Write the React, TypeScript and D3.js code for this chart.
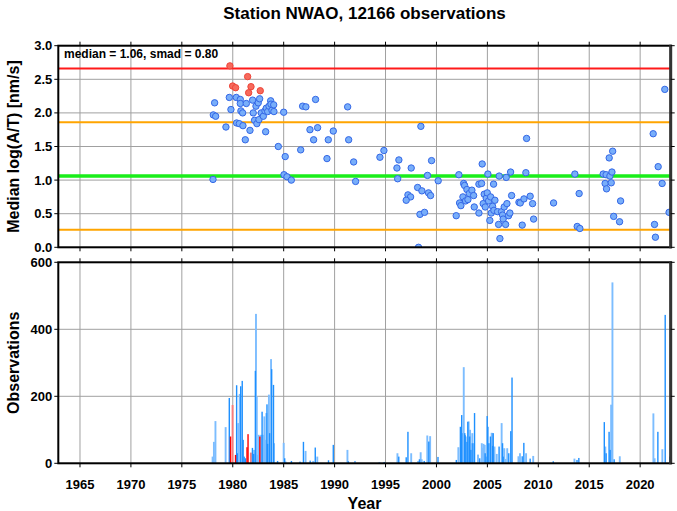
import React from "react";
import * as d3 from "d3";

// ---------- data ----------
const medianVal = 1.06;
const smadVal = 0.8;
const titleText = "Station NWAO, 12166 observations";

const ptYears = [
  1978.22, 1978.09, 1978.32, 1978.06, 1979.33, 1979.66, 1979.82, 1980.35, 1980.74, 1980.74,
  1980.8, 1980.97, 1980.38, 1980.64, 1981.0, 1981.23, 1981.69, 1981.33, 1981.95, 1982.01,
  1982.28, 1982.5, 1982.64, 1982.14, 1982.37, 1982.57, 1982.8, 1983.0, 1983.16, 1983.29,
  1983.43, 1983.56, 1983.72, 1983.75, 1983.85, 1984.02, 1984.04, 1983.23, 1984.47, 1985.0,
  1985.15, 1985.03, 1985.32, 1985.75, 1986.67, 1986.86, 1987.18, 1987.58, 1988.13, 1987.94,
  1988.33, 1989.25, 1989.38, 1989.87, 1991.28, 1991.38, 1991.87, 1992.06, 1994.45, 1994.84,
  1996.12, 1996.31, 1996.19, 1997.52, 1998.15, 1998.47, 1998.57, 1997.2, 1997.46, 1997.03,
  1998.38, 1998.83, 1998.24, 1999.12, 1999.22, 1999.42, 1999.52, 2000.17, 2001.94, 2002.2,
  2002.27, 2002.4, 2002.6, 2002.67, 2002.76, 2002.86, 2002.99, 2003.09, 2003.22, 2003.48,
  2003.65, 2003.71, 2004.17, 2004.17, 2004.43, 2004.49, 2004.59, 2004.69, 2004.79, 2004.89,
  2004.99, 2005.05, 2005.12, 2005.24, 2005.32, 2005.38, 2005.51, 2005.61, 2005.64, 2005.74,
  2006.0, 2006.1, 2006.16, 2006.23, 2006.39, 2006.49, 2006.55, 2006.65, 2006.79, 2006.85,
  2006.92, 2007.08, 2007.21, 2007.28, 2007.38, 2008.1, 2008.23, 2008.42, 2008.59, 2008.78,
  2008.85, 2009.2, 2009.44, 2009.54, 2011.5, 2013.59, 2014.01, 2013.82, 2014.08, 2016.37,
  2016.56, 2016.66, 2016.7, 2016.96, 2017.03, 2017.16, 2017.23, 2017.3, 2017.4, 2017.98,
  2018.08, 2021.28, 2021.77, 2022.16, 2021.41, 2021.5, 2022.42, 2022.84,
];
const ptValues = [
  2.15, 1.97, 1.95, 1.01, 1.79, 2.23, 2.05, 2.23, 2.2, 2.14,
  2.03, 2.0, 1.85, 1.84, 1.81, 1.6, 1.74, 2.14, 2.19, 2.0,
  2.1, 2.15, 2.21, 1.89, 1.84, 1.9, 2.0, 1.95, 2.03, 2.07,
  2.02, 2.1, 2.18, 2.13, 2.04, 2.12, 2.02, 1.72, 1.5, 2.01,
  1.35, 1.08, 1.05, 1.0, 1.45, 2.1, 2.09, 1.75, 2.2, 1.6,
  1.78, 1.32, 1.6, 1.73, 2.09, 1.6, 1.27, 0.98, 1.34, 1.44,
  1.18, 1.3, 1.02, 1.18, 0.89, 1.8, 0.84, 0.78, 0.75, 0.7,
  0.49, 0.52, 0.0, 1.07, 0.81, 0.77, 1.29, 0.99, 0.47, 1.08,
  0.66, 0.62, 0.75, 0.95, 0.92, 0.69, 0.86, 0.71, 0.8, 0.85,
  0.77, 0.6, 0.94, 0.51, 0.95, 1.24, 0.65, 0.79, 0.6, 0.73,
  0.81, 1.09, 0.69, 0.4, 0.75, 0.51, 0.61, 0.94, 0.55, 0.7,
  0.53, 0.34, 1.06, 0.13, 0.53, 0.48, 0.42, 0.6, 0.34, 1.04,
  0.65, 0.47, 0.51, 1.12, 0.77, 0.67, 0.66, 0.33, 0.72, 1.11,
  1.62, 0.76, 0.65, 0.42, 0.66, 1.09, 0.8, 0.31, 0.28, 1.09,
  0.95, 1.08, 0.87, 1.33, 1.06, 0.96, 1.12, 1.43, 0.46, 0.38,
  0.69, 1.69, 1.2, 0.95, 0.34, 0.15, 2.35, 0.52,
];
const outYears = [1979.72, 1981.46, 1979.99, 1980.28, 1981.79, 1981.56, 1982.7];
const outValues = [2.7, 2.54, 2.4, 2.375, 2.39, 2.3, 2.33];

// histogram bars: year, count, kind (b = blue, l = light blue, r = red, p = light red)
const barYears = [
  1978.02, 1978.15, 1978.3, 1979.3, 1979.66, 1979.72, 1979.78, 1979.98, 1980.27, 1980.38,
  1980.45, 1980.68, 1980.78, 1980.93, 1981.02, 1981.25, 1981.4, 1981.5, 1981.78, 1981.93,
  1982.1, 1982.22, 1982.28, 1982.36, 1982.45, 1982.55, 1982.66, 1982.78, 1982.88, 1982.98,
  1983.1, 1983.2, 1983.36, 1983.42, 1983.55, 1983.62, 1983.76, 1983.82, 1984.0, 1984.05,
  1984.4, 1985.0, 1985.1, 1985.2, 1985.76, 1986.6, 1986.94, 1987.15, 1987.6, 1987.9,
  1988.1, 1988.3, 1989.4, 1989.87, 1991.26, 1991.35, 1992.0, 1994.4, 1994.87, 1996.17,
  1996.3, 1997.03, 1997.2, 1997.52, 1998.2, 1998.33, 1998.45, 1998.55, 1998.8, 1999.1,
  1999.25, 1999.38, 2000.15, 2001.95, 2002.15, 2002.35, 2002.48, 2002.58, 2002.68, 2002.78,
  2002.88, 2003.0, 2003.08, 2003.16, 2003.26, 2003.45, 2003.58, 2003.74, 2004.08, 2004.25,
  2004.45, 2004.58, 2004.78, 2004.88, 2004.98, 2005.05, 2005.15, 2005.3, 2005.42, 2005.52,
  2005.7, 2005.92, 2006.15, 2006.4, 2006.55, 2006.78, 2006.95, 2007.1, 2007.3, 2007.42,
  2008.05, 2008.2, 2008.42, 2008.58, 2008.8, 2009.2, 2009.5, 2011.47, 2013.55, 2013.8,
  2013.98, 2016.48, 2016.58, 2016.66, 2016.95, 2017.05, 2017.15, 2017.28, 2017.45, 2018.0,
  2021.3, 2021.42, 2021.74, 2022.18, 2022.46, 2022.92,
  2002.81, 2003.3, 2003.38, 2003.52, 2004.62, 2004.74, 2005.48, 2005.57, 2006.49, 2006.66,
  1980.55, 1981.12, 1982.05, 1983.0, 1983.3,
];
const barCounts = [
  20, 64, 126, 108, 195, 15, 80, 174, 25, 233,
  30, 207, 230, 246, 70, 15, 48, 87, 32, 46,
  40, 276, 446, 199, 25, 85, 80, 85, 154, 85,
  140, 70, 176, 58, 205, 90, 311, 281, 234, 60,
  7, 61, 15, 5, 7, 5, 64, 37, 8, 7,
  47, 20, 9, 55, 40, 6, 7, 4, 4, 30,
  20, 18, 94, 30, 7, 12, 33, 12, 7, 83,
  65, 81, 19, 10, 48, 109, 144, 90, 287, 90,
  80, 64, 124, 125, 80, 60, 60, 150, 26, 15,
  60, 46, 30, 20, 141, 109, 60, 80, 91, 52,
  50, 28, 50, 120, 20, 13, 45, 30, 96, 256,
  21, 30, 21, 61, 30, 14, 22, 6, 14, 10,
  16, 123, 50, 30, 94, 40, 175, 540, 12, 21,
  149, 15, 94, 42, 443, 20,
  84, 100, 40, 90, 58, 55, 90, 90, 60, 45,
  120, 20, 28, 45, 150,
];
const barKinds = [
  "l", "l", "l", "l", "b", "l", "r", "p", "r", "b",
  "b", "l", "b", "b", "b", "b", "r", "r", "p", "b",
  "l", "b", "l", "l", "l", "l", "r", "l", "b", "l",
  "l", "l", "b", "b", "l", "b", "l", "b", "b", "l",
  "b", "l", "b", "l", "b", "b", "b", "l", "b", "l",
  "b", "l", "b", "b", "l", "b", "l", "l", "b", "l",
  "b", "b", "b", "l", "l", "b", "l", "l", "b", "l",
  "b", "l", "b", "b", "l", "b", "b", "l", "l", "b",
  "l", "b", "b", "l", "b", "l", "b", "b", "l", "b",
  "l", "l", "b", "l", "b", "b", "b", "b", "l", "b",
  "l", "l", "b", "l", "b", "l", "l", "b", "b", "b",
  "l", "l", "b", "b", "l", "b", "l", "b", "l", "b",
  "b", "b", "l", "b", "b", "b", "l", "l", "b", "l",
  "l", "l", "b", "l", "b", "b",
  "b", "l", "b", "l", "l", "l", "l", "b", "b", "l",
  "l", "b", "b", "l", "l",
];

const xTicks = [1965, 1970, 1975, 1980, 1985, 1990, 1995, 2000, 2005, 2010, 2015, 2020];
const yTopTicks = [0, 0.5, 1, 1.5, 2, 2.5, 3];
const yBotTicks = [0, 200, 400, 600];

// ---------- layout ----------
const W = 677;
const H = 511;
const L = 58.3;
const R = 670.7;
const T1 = 45.7;
const B1 = 247.3;
const T2 = 262.3;
const B2 = 463.3;
const FONT = "'Liberation Sans', Arial, Helvetica, sans-serif";

const barColor: Record<string, string> = {
  b: "#1e90ff",
  l: "#7cbdff",
  r: "#ff0000",
  p: "#f77c7c",
};

export default function App() {
  const x = d3.scaleLinear().domain([1962.87, 2023.0]).range([L, R]);
  const y1 = d3.scaleLinear().domain([0, 3]).range([B1, T1]);
  const y2 = d3.scaleLinear().domain([0, 600]).range([B2, T2]);

  const hLines = [
    { v: medianVal + 2 * smadVal, c: "#ff1a1a", w: 2 },
    { v: medianVal + smadVal, c: "#ffa500", w: 2 },
    { v: medianVal, c: "#1aee1a", w: 3.5 },
    { v: medianVal - smadVal, c: "#ffa500", w: 2 },
  ];

  const bars = barYears.map((yr, i) => ({ yr, n: barCounts[i], k: barKinds[i] }));
  const order = ["l", "p", "b", "r"];
  bars.sort((a, b) => order.indexOf(a.k) - order.indexOf(b.k));

  const tick = 4;
  const frame = (top: number, bot: number) => (
    <g>
      <rect x={L} y={top} width={R - L} height={bot - top} fill="none" stroke="#000" strokeWidth={2} />
      <line x1={R} x2={R} y1={top - 1} y2={bot + 1} stroke="#333" strokeWidth={3} />
    </g>
  );

  return (
    <svg width={W} height={H} style={{ position: "absolute", left: 0, top: 0 }} fontFamily={FONT}>
      <rect x={0} y={0} width={W} height={H} fill="#fff" />
      <defs>
        <clipPath id="clipTop">
          <rect x={L} y={T1} width={R - L} height={B1 - T1} />
        </clipPath>
        <clipPath id="clipBot">
          <rect x={L} y={T2} width={R - L} height={B2 - T2} />
        </clipPath>
      </defs>

      <text x={(L + R) / 2} y={18.5} textAnchor="middle" fontSize={17} fontWeight="bold">
        {titleText}
      </text>

      {/* ---------- top panel ---------- */}
      <g>
        {xTicks.map((t) => (
          <line key={"gx1" + t} x1={x(t)} x2={x(t)} y1={T1} y2={B1} stroke="#a0a0a0" strokeWidth={1} />
        ))}
        {yTopTicks.map((t) => (
          <line key={"gy1" + t} x1={L} x2={R} y1={y1(t)} y2={y1(t)} stroke="#a0a0a0" strokeWidth={1} />
        ))}
        {hLines.map((h, i) => (
          <line key={"h" + i} x1={L} x2={R} y1={y1(h.v)} y2={y1(h.v)} stroke={h.c} strokeWidth={h.w} />
        ))}
        <g clipPath="url(#clipTop)">
          {ptYears.map((yr, i) => (
            <circle key={"p" + i} cx={x(yr)} cy={y1(ptValues[i])} r={3.2} fill="#78aefa" stroke="#3467e6" strokeWidth={1} />
          ))}
          {outYears.map((yr, i) => (
            <circle key={"o" + i} cx={x(yr)} cy={y1(outValues[i])} r={3.2} fill="#f76a5c" stroke="#ee4438" strokeWidth={1} />
          ))}
        </g>
        {frame(T1, B1)}
        {xTicks.map((t) => (
          <g key={"tx1" + t}>
            <line x1={x(t)} x2={x(t)} y1={T1 - tick} y2={T1} stroke="#000" strokeWidth={1} />
            <line x1={x(t)} x2={x(t)} y1={B1} y2={B1 + tick} stroke="#000" strokeWidth={1} />
          </g>
        ))}
        {yTopTicks.map((t) => (
          <g key={"ty1" + t}>
            <line x1={L - tick} x2={L} y1={y1(t)} y2={y1(t)} stroke="#000" strokeWidth={1} />
            <line x1={R} x2={R + tick} y1={y1(t)} y2={y1(t)} stroke="#000" strokeWidth={1} />
            <text x={L - 6} y={y1(t) + 4.5} textAnchor="end" fontSize={13} fontWeight="bold">
              {d3.format(".1f")(t)}
            </text>
          </g>
        ))}
        <text x={64} y={58} fontSize={12} fontWeight="bold">
          {`median = ${medianVal.toFixed(2)}, smad = ${smadVal.toFixed(2)}`}
        </text>
        <text
          transform={`translate(19,${(T1 + B1) / 2}) rotate(-90)`}
          textAnchor="middle"
          fontSize={16}
          fontWeight="bold"
        >
          Median log(A/T) [nm/s]
        </text>
      </g>

      {/* ---------- bottom panel ---------- */}
      <g>
        {xTicks.map((t) => (
          <line key={"gx2" + t} x1={x(t)} x2={x(t)} y1={T2} y2={B2} stroke="#a0a0a0" strokeWidth={1} />
        ))}
        {yBotTicks.map((t) => (
          <line key={"gy2" + t} x1={L} x2={R} y1={y2(t)} y2={y2(t)} stroke="#a0a0a0" strokeWidth={1} />
        ))}
        <g clipPath="url(#clipBot)">
          {bars.map((b, i) => {
            const w = b.k === "l" || b.k === "p" ? 1.9 : 1.4;
            return (
              <rect
                key={"b" + i}
                x={x(b.yr) - w / 2}
                y={y2(b.n)}
                width={w}
                height={B2 - y2(b.n)}
                fill={barColor[b.k]}
              />
            );
          })}
        </g>
        {frame(T2, B2)}
        {xTicks.map((t) => (
          <g key={"tx2" + t}>
            <line x1={x(t)} x2={x(t)} y1={T2 - tick} y2={T2} stroke="#000" strokeWidth={1} />
            <line x1={x(t)} x2={x(t)} y1={B2} y2={B2 + tick} stroke="#000" strokeWidth={1} />
            <text x={x(t)} y={489} textAnchor="middle" fontSize={13} fontWeight="bold">
              {t}
            </text>
          </g>
        ))}
        {yBotTicks.map((t) => (
          <g key={"ty2" + t}>
            <line x1={L - tick} x2={L} y1={y2(t)} y2={y2(t)} stroke="#000" strokeWidth={1} />
            <line x1={R} x2={R + tick} y1={y2(t)} y2={y2(t)} stroke="#000" strokeWidth={1} />
            <text x={L - 6} y={y2(t) + 4.5} textAnchor="end" fontSize={13} fontWeight="bold">
              {t}
            </text>
          </g>
        ))}
        <text
          transform={`translate(19,${(T2 + B2) / 2}) rotate(-90)`}
          textAnchor="middle"
          fontSize={16}
          fontWeight="bold"
        >
          Observations
        </text>
        <text x={(L + R) / 2} y={509} textAnchor="middle" fontSize={16} fontWeight="bold">
          Year
        </text>
      </g>
    </svg>
  );
}
